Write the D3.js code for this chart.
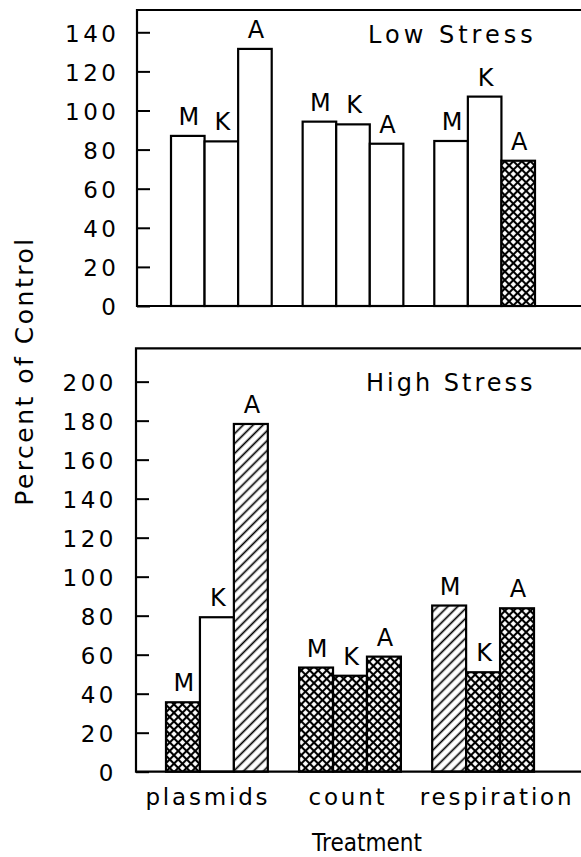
<!DOCTYPE html>
<html><head><meta charset="utf-8">
<script src="https://cdn.jsdelivr.net/npm/d3@7"></script>
<style>
html,body{margin:0;padding:0;background:#fff;}
svg{display:block;}
text{font-family:"DejaVu Sans",sans-serif;fill:#000;}
</style></head><body>
<svg id="chart" width="581" height="857"></svg>
<script>
// ---- data ----
const treatments = ["plasmids", "count", "respiration"];
const strains = ["M", "K", "A"];
// Low stress, percent of control (per treatment)
const lowStressM = [87.0, 94.3, 84.4];
const lowStressK = [84.2, 92.9, 107.1];
const lowStressA = [131.5, 83.0, 74.3];
// High stress, percent of control (per treatment)
const highStressM = [35.6, 53.4, 85.2];
const highStressK = [79.2, 49.2, 51.0];
const highStressA = [178.3, 59.0, 83.8];
// bar shading code: "open", "cross" (cross-hatched), "hatch" (diagonal)
const lowStressShadeM = ["open", "open", "open"];
const lowStressShadeK = ["open", "open", "open"];
const lowStressShadeA = ["open", "open", "cross"];
const highStressShadeM = ["cross", "cross", "hatch"];
const highStressShadeK = ["open", "cross", "cross"];
const highStressShadeA = ["hatch", "cross", "cross"];
const lowTicks = [0, 20, 40, 60, 80, 100, 120, 140];
const highTicks = [0, 20, 40, 60, 80, 100, 120, 140, 160, 180, 200];
const panelTitles = ["Low Stress", "High Stress"];
const yAxisTitle = "Percent of Control";
const xAxisTitle = "Treatment";

// ---- layout ----
const svg = d3.select("#chart");
const defs = svg.append("defs");
const cross = defs.append("pattern").attr("id", "cross")
  .attr("patternUnits", "userSpaceOnUse").attr("width", 6).attr("height", 6)
  .attr("patternTransform", "rotate(45)");
cross.append("rect").attr("width", 6).attr("height", 6).attr("fill", "#fff");
cross.append("line").attr("x1", 0).attr("x2", 6).attr("y1", 3).attr("y2", 3).attr("stroke", "#000").attr("stroke-width", 2.1);
cross.append("line").attr("y1", 0).attr("y2", 6).attr("x1", 3).attr("x2", 3).attr("stroke", "#000").attr("stroke-width", 2.1);
const hatch = defs.append("pattern").attr("id", "hatch")
  .attr("patternUnits", "userSpaceOnUse").attr("width", 7).attr("height", 7)
  .attr("patternTransform", "rotate(-45)");
hatch.append("rect").attr("width", 7).attr("height", 7).attr("fill", "#fff");
hatch.append("line").attr("x1", 0).attr("x2", 7).attr("y1", 3.5).attr("y2", 3.5).attr("stroke", "#000").attr("stroke-width", 1.7);

const shadeFill = {open: "#fff", cross: "url(#cross)", hatch: "url(#hatch)"};

const panels = [
  {title: panelTitles[0], series: [lowStressM, lowStressK, lowStressA],
   shades: [lowStressShadeM, lowStressShadeK, lowStressShadeA], ticks: lowTicks,
   yMax: 151.4, top: 10, bottom: 306, left: 137, xStart: 171, xEnd: 535,
   titleX: 368, titleY: 43, titleLS: 4, tickPad: 17.5},
  {title: panelTitles[1], series: [highStressM, highStressK, highStressA],
   shades: [highStressShadeM, highStressShadeK, highStressShadeA], ticks: highTicks,
   yMax: 217.1, top: 348.3, bottom: 771.7, left: 136, xStart: 166, xEnd: 534,
   titleX: 366, titleY: 391, titleLS: 3, tickPad: 19}
];

let lastX0 = null;
panels.forEach((p, pi) => {
  const y = d3.scaleLinear().domain([0, p.yMax]).range([p.bottom, p.top]);
  const x0 = d3.scaleBand().domain(treatments).range([p.xStart, p.xEnd]).paddingInner(0.235).paddingOuter(0);
  const x1 = d3.scaleBand().domain(strains).range([0, x0.bandwidth()]);
  lastX0 = x0;
  const g = svg.append("g");

  const barData = [];
  treatments.forEach((t, i) => {
    strains.forEach((s, j) => {
      barData.push({t, s, v: p.series[j][i], shade: p.shades[j][i]});
    });
  });

  g.selectAll("rect.bar").data(barData).join("rect").attr("class", "bar")
    .attr("x", d => x0(d.t) + x1(d.s))
    .attr("y", d => y(d.v))
    .attr("width", x1.bandwidth())
    .attr("height", d => y(0) - y(d.v))
    .attr("fill", d => shadeFill[d.shade])
    .attr("stroke", "#000").attr("stroke-width", 2.2);

  g.selectAll("text.lab").data(barData).join("text").attr("class", "lab")
    .attr("x", d => x0(d.t) + x1(d.s) + x1.bandwidth() / 2 + 1)
    .attr("y", d => y(d.v) - 11)
    .attr("text-anchor", "middle")
    .style("font-size", "24px")
    .text(d => d.s);

  // axis
  const ax = g.append("g").attr("transform", `translate(${p.left},0)`)
    .call(d3.axisLeft(y).tickValues(p.ticks).tickSize(-13).tickPadding(p.tickPad).tickFormat(d3.format("d")));
  ax.select(".domain").remove();
  ax.selectAll(".tick line").attr("stroke", "#000").attr("stroke-width", 2);
  ax.selectAll(".tick text").attr("fill", "#000").attr("dy", "0.38em")
    .style("font-size", "23px").style("letter-spacing", "3.5px")
    .style("font-family", "'DejaVu Sans', sans-serif");

  // frame
  g.append("path")
    .attr("d", `M600,${p.top}H${p.left}V${p.bottom}H600`)
    .attr("fill", "none").attr("stroke", "#000").attr("stroke-width", 2.2);

  g.append("text").attr("x", p.titleX).attr("y", p.titleY)
    .style("font-size", "24px").style("letter-spacing", p.titleLS + "px")
    .text(p.title);
});

// category labels under lower panel
const catShift = [-9, -2, 14];
svg.append("g").selectAll("text").data(treatments).join("text")
  .attr("x", (d, i) => lastX0(d) + lastX0.bandwidth() / 2 + catShift[i])
  .attr("y", 805)
  .attr("text-anchor", "middle")
  .style("font-size", "23px").style("letter-spacing", "2.8px")
  .text(d => d);

svg.append("text").attr("x", 367).attr("y", 851).attr("text-anchor", "middle")
  .attr("textLength", 110).attr("lengthAdjust", "spacingAndGlyphs")
  .style("font-size", "24px")
  .text(xAxisTitle);

svg.append("text").attr("transform", "translate(32.5,371) rotate(-90)")
  .attr("text-anchor", "middle")
  .style("font-size", "25px").style("letter-spacing", "2.5px")
  .text(yAxisTitle);
</script>
</body></html>
